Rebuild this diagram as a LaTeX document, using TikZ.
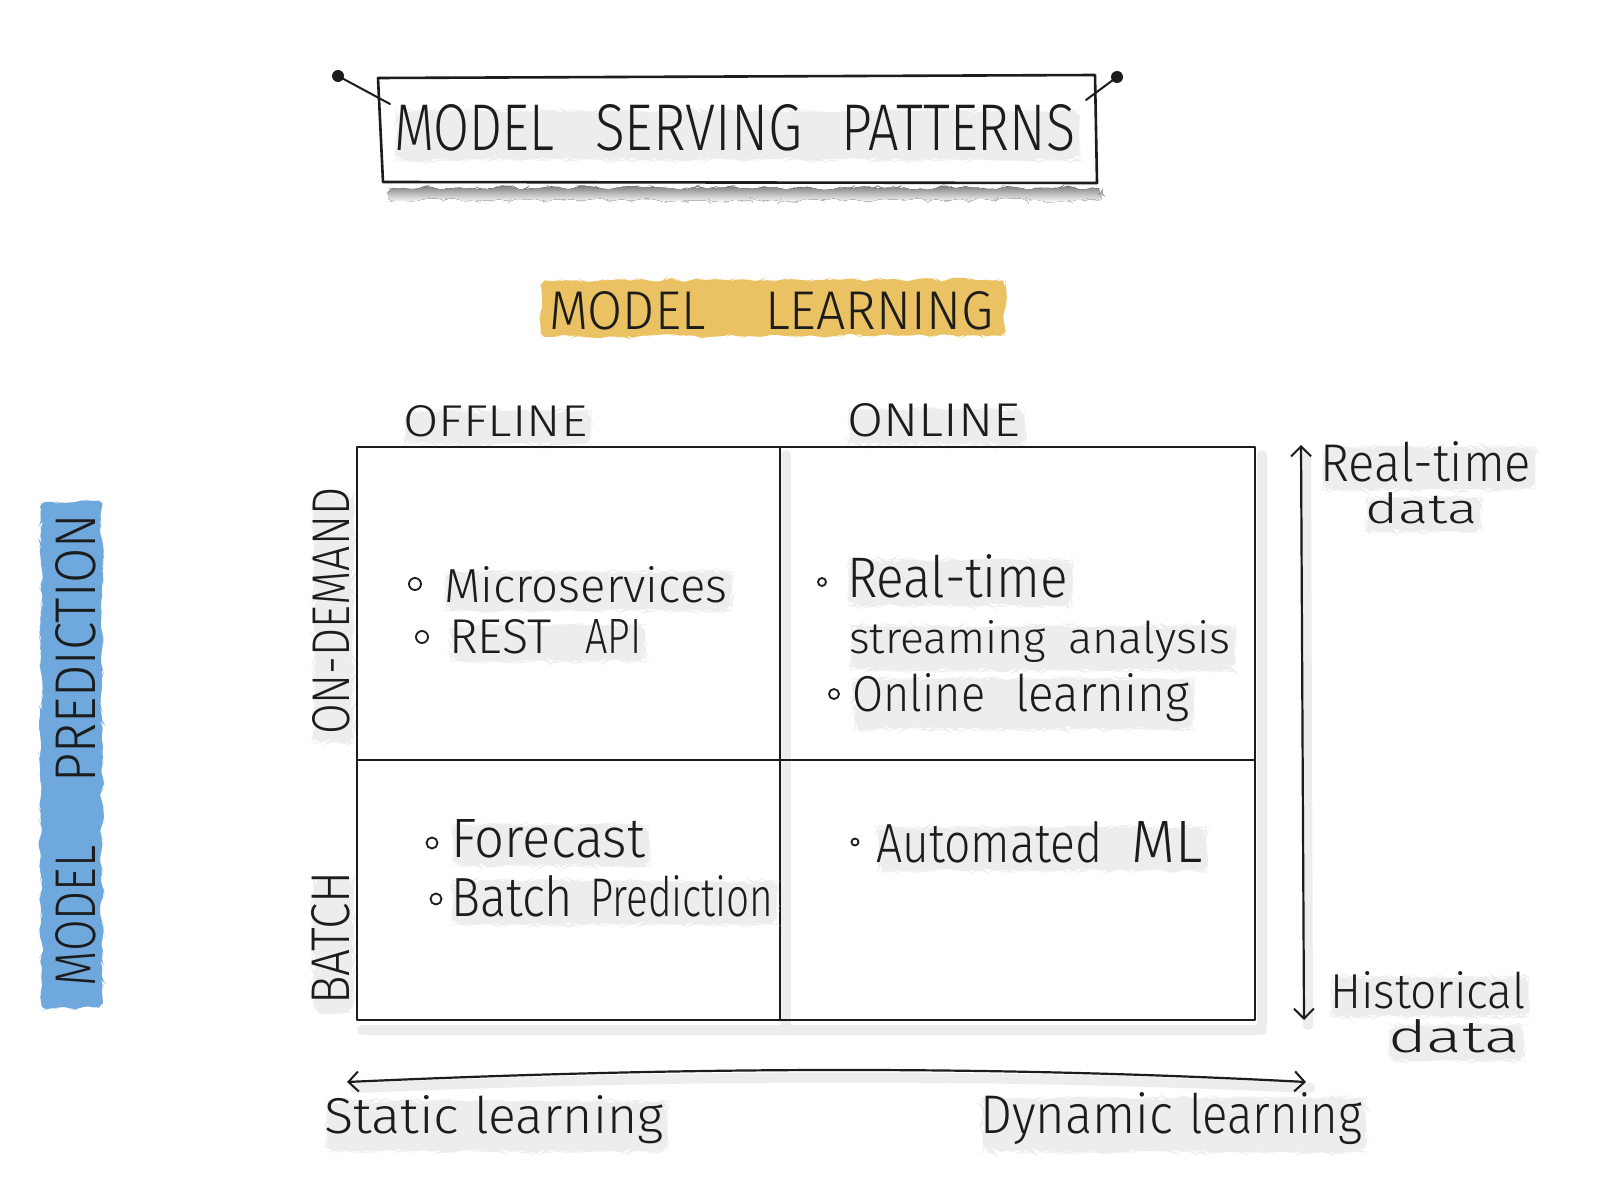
\documentclass[tikz,border=0pt]{standalone}
\usepackage{fontspec}
\IfFontExistsTF{Fira Sans Light}{\setmainfont{Fira Sans Light}}{\setmainfont{Fira Sans}}
\usetikzlibrary{arrows.meta,decorations.pathmorphing}
\definecolor{hlorange}{HTML}{EBC263}
\definecolor{hlblue}{HTML}{6FA8DC}
\definecolor{ink}{HTML}{1C1C1C}
\definecolor{shade}{HTML}{EDEDED}
\newcommand{\hw}[3]{\resizebox{#1pt}{#2pt}{#3}}
\begin{document}
\begin{tikzpicture}[x=1pt,y=-1pt,
  >={Straight Barb[length=10pt,width=20pt,line width=2pt]},
  txt/.style={anchor=base west, inner sep=1pt, text=ink, font=\fontsize{30}{30}\selectfont},
  shd/.style={preaction={fill=shade, rounded corners=9pt, decorate,
      decoration={random steps, segment length=5pt, amplitude=2pt},
      transform canvas={shift={(3pt,-7pt)}}}},
  rot/.style={txt, rotate=90},
  inkline/.style={draw=ink, line width=2.6pt, line cap=round, line join=round},
  shline/.style={draw=shade, line width=10pt, line cap=round},
  bul/.style={circle, draw=ink, line width=1.8pt, inner sep=0pt, minimum size=#1},
  hl/.style={decorate, decoration={random steps, segment length=6pt, amplitude=2.5pt}, rounded corners=6pt}
]
\pgfmathsetseed{11}
\useasboundingbox (0,0) rectangle (1600,1198);
\fill[white] (0,0) rectangle (1600,1198);

% ---------- title ----------
\fill[shade, hl] (388,188) rectangle (1100,200);
\coordinate (tbA) at (378,78);
\coordinate (tbB) at (1095,75);
\coordinate (tbC) at (1097,183);
\coordinate (tbD) at (383,182);
\draw[inkline] (tbA) -- (tbB) -- (tbC) -- (tbD) -- cycle;
\coordinate (pinL) at (338,76);
\coordinate (pinLe) at (390,104);
\coordinate (pinR) at (1117,77);
\coordinate (pinRe) at (1086,100);
\fill[ink] (pinL) circle (6);
\fill[ink] (pinR) circle (6);
\draw[inkline, line width=2pt] (pinL) -- (pinLe);
\draw[inkline, line width=2pt] (pinR) -- (pinRe);
\node[txt, shd] (title) at (393,151)
  {\hw{160}{46}{MODEL}\hspace{41pt}\hw{207}{46}{SERVING}\hspace{39pt}\hw{234}{46}{PATTERNS}};

% ---------- model learning ----------
\fill[hlorange, hl] (541,280) rectangle (1005,336);
\node[txt] (learn) at (548,329)
  {\hw{156}{38}{MODEL}\hspace{60pt}\hw{228}{38}{LEARNING}};

% ---------- model prediction ----------
\fill[hlblue, hl] (41,502) rectangle (102,1008);
\node[rot] (pred) at (95,988)
  {\hw{141}{40}{MODEL}\hspace{63pt}\hw{269}{40}{PREDICTION}};

% ---------- column / row headers ----------
\node[txt, shd] (offline) at (402,436) {\hw{184}{31}{OFFLINE}};
\node[txt, shd] (online) at (846,436) {\hw{173}{33}{ONLINE}};
\node[rot, shd] (ondemand) at (349,736) {\hw{247}{37}{ON-DEMAND}};
\node[rot, shd] (batch) at (349,1006) {\hw{133}{38}{BATCH}};

% ---------- grid ----------
\draw[shline] (362,1030) -- (1262,1030);
\draw[shline] (786,455) -- (786,1025);
\draw[shline] (1262,455) -- (1262,1025);
\coordinate (gTL) at (357,447);
\coordinate (gTR) at (1255,447);
\coordinate (gBR) at (1255,1020);
\coordinate (gBL) at (357,1020);
\coordinate (gTM) at (780,447);
\coordinate (gBM) at (780,1020);
\coordinate (gML) at (357,760);
\coordinate (gMR) at (1255,760);
\draw[inkline] (gTL) -- (gTR) -- (gBR) -- (gBL) -- cycle;
\draw[inkline] (gTM) -- (gBM);
\draw[inkline] (gML) -- (gMR);

% ---------- cell: offline / on-demand ----------
\node[bul=12pt] (b1) at (415,584) {};
\node[txt, shd] (micro) at (443,602) {\hw{283}{36}{Microservices}};
\node[bul=12pt] (b2) at (422,637) {};
\node[txt, shd] (rest) at (448,653) {\hw{102}{34}{REST}\hspace{34pt}\hw{56}{34}{API}};

% ---------- cell: online / on-demand ----------
\node[bul=8pt] (b3) at (822,582) {};
\node[txt, shd] (rt) at (846,597) {\hw{221}{43}{Real-time}};
\node[txt, shd] (stream) at (848,653) {\hw{197}{33}{streaming}\hspace{22pt}\hw{162}{33}{analysis}};
\node[bul=10pt] (b4) at (834,694) {};
\node[txt, shd] (ol) at (851,711) {\hw{133}{38}{Online}\hspace{30pt}\hw{174}{38}{learning}};

% ---------- cell: offline / batch ----------
\node[bul=11pt] (b5) at (432,843) {};
\node[txt, shd] (fc) at (450,857) {\hw{194}{38}{Forecast}};
\node[bul=11pt] (b6) at (436,899) {};
\node[txt, shd] (bp) at (450,916) {\hw{122}{41}{Batch}\hspace{17pt}\hw{183}{41}{Prediction}};

% ---------- cell: online / batch ----------
\node[bul=7pt] (b7) at (855,842) {};
\node[txt, shd] (aml) at (875,862) {\hw{226}{41}{Automated}\hspace{29pt}\hw{71}{41}{ML}};

% ---------- right axis ----------
\draw[shline] (1306,455) -- (1308,1025);
\coordinate (vTop) at (1301,445);
\coordinate (vBot) at (1304,1020);
\draw[inkline, line width=2.2pt, <->] (vTop) -- (vBot);
\node[txt, shd] (rtd1) at (1319,481) {\hw{211}{40}{Real-time}};
\node[txt, shd] (rtd2) at (1364,523) {\hw{112}{31}{data}};
\node[txt, shd] (hd1) at (1329,1008) {\hw{195}{37}{Historical}};
\node[txt, shd] (hd2) at (1387,1052) {\hw{132}{33}{data}};

% ---------- bottom axis ----------
\draw[shline] (355,1088) .. controls (700,1074) and (1000,1074) .. (1310,1088);
\coordinate (hL) at (347,1082);
\coordinate (hR) at (1306,1082);
\draw[inkline, line width=2.2pt, <->] (hL) .. controls (700,1066) and (1000,1066) .. (hR);
\node[txt, shd] (static) at (323,1133) {\hw{135}{38}{Static}\hspace{15pt}\hw{189}{38}{learning}};
\node[txt, shd] (dynamic) at (979,1133) {\hw{193}{41}{Dynamic}\hspace{16pt}\hw{173}{41}{learning}};
\end{tikzpicture}
\end{document}
